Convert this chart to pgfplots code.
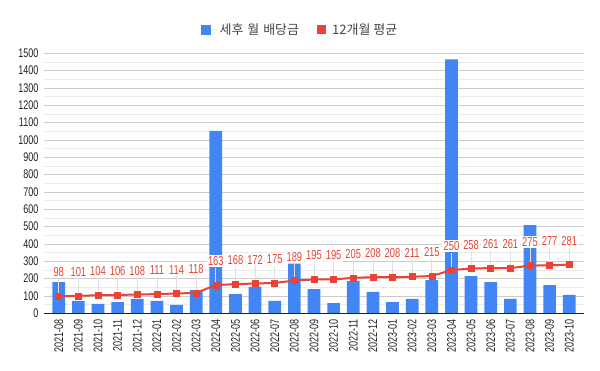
\documentclass[border=0pt]{standalone}
\usepackage{pgfplots}
\pgfplotsset{compat=1.18}
\usepackage{fontspec}
\setmainfont{Liberation Sans}[FakeStretch=0.72]
\newfontfamily\kr{Noto Sans CJK KR}
\definecolor{gblue}{HTML}{4285F4}
\definecolor{gred}{HTML}{EA4335}
\definecolor{majgrid}{HTML}{CCCCCC}
\definecolor{mingrid}{HTML}{EBEBEB}
\definecolor{tickc}{HTML}{222222}
\definecolor{legc}{HTML}{444444}

\pgfplotstableread{
x y
0 180
1 71
2 54
3 65
4 83
5 71
6 48
7 134
8 1052
9 111
10 152
11 71
12 286
13 140
14 59
15 186
16 123
17 65
18 83
19 192
20 1465
21 215
22 180
23 83
24 509
25 163
26 106
}\bars

\pgfplotstableread{
x y
0 98
1 101
2 104
3 106
4 108
5 111
6 114
7 118
8 163
9 168
10 172
11 175
12 189
13 195
14 195
15 205
16 208
17 208
18 211
19 215
20 250
21 258
22 261
23 261
24 275
25 277
26 281
}\avg

\begin{document}
\begin{tikzpicture}
\useasboundingbox (0,0) rectangle (600bp,371bp);
\begin{axis}[
  at={(44bp,57.7bp)}, anchor=south west,
  scale only axis, width=540bp, height=260bp,
  xmin=-0.75, xmax=26.75, ymin=0, ymax=1500,
  xtick={0,...,26},
  xticklabels={2021-08,2021-09,2021-10,2021-11,2021-12,2022-01,2022-02,2022-03,2022-04,2022-05,2022-06,2022-07,2022-08,2022-09,2022-10,2022-11,2022-12,2023-01,2023-02,2023-03,2023-04,2023-05,2023-06,2023-07,2023-08,2023-09,2023-10},
  ytick={0,100,...,1500},
  minor ytick={50,150,...,1450},
  ymajorgrids, yminorgrids,
  major grid style={majgrid, line width=0.8bp},
  minor grid style={mingrid, line width=0.8bp},
  axis line style={draw=none},
  major tick length=0pt, minor tick length=0pt,
  tick label style={font=\fontsize{12.5bp}{14bp}\selectfont, text=tickc},
  /pgf/number format/assume math mode=true,
  /pgf/number format/1000 sep={},
  yticklabel style={anchor=east, inner sep=0pt, xshift=-5.5bp},
  xticklabel style={rotate=90, anchor=east, inner sep=0pt},
  xticklabel shift=5.5bp,
  legend columns=2,
  legend cell align=left,
  legend style={at={(0.474,1.09)}, anchor=center, draw=none, fill=none,
    font=\kr\fontsize{13bp}{15bp}\selectfont, text=legc,
    /tikz/every even column/.append style={column sep=16bp},
    nodes={inner sep=2bp}},
]
\addplot[ybar, bar width=12.7bp, fill=gblue, draw=none,
  legend image code/.code={\fill[gblue] (0bp,-5bp) rectangle (10bp,5bp); \path[draw=none] (10bp,0bp) -- (17bp,0bp);}]
  table[x=x, y=y] {\bars};
\addlegendentry{세후\hspace{1bp} 월\hspace{1bp} 배당금}
\addplot[gred, line width=2bp, mark=square*, mark size=3bp,
  mark options={solid, fill=gred, draw=gred, line width=0.5bp},
  legend image code/.code={\fill[gred,draw=none] (0bp,-4.5bp) rectangle (9bp,4.5bp); \path[draw=none] (9bp,0bp) -- (13bp,0bp);},
  nodes near coords,
  nodes near coords style={anchor=center, yshift=24bp, fill=white, inner sep=1.5bp, text=gred, font=\fontsize{13bp}{14bp}\selectfont},
  error bars/.cd, y dir=plus, y fixed=100, error mark=none,
  error bar style={color=black!12, line width=0.8bp}]
  table[x=x, y=y] {\avg};
\addlegendentry{12개월 평균}
\draw[tickc, line width=1bp] (axis cs:-0.75,0) -- (axis cs:26.75,0);
\end{axis}
\end{tikzpicture}
\end{document}
